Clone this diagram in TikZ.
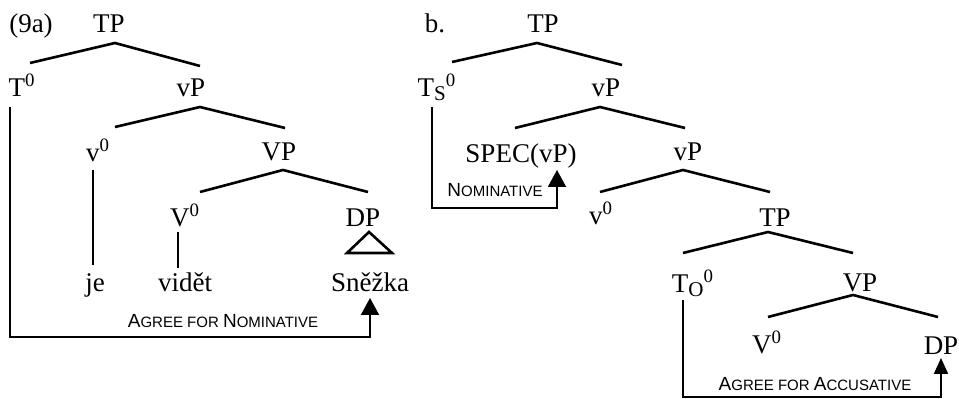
\documentclass[tikz,border=0pt]{standalone}
\usepackage{fontspec}
\setmainfont{Liberation Serif}
\setsansfont{Liberation Sans}
\usepackage{tikz}
\usetikzlibrary{calc}
\usetikzlibrary{arrows.meta}
\tikzstyle{cat} = [anchor=base, inner sep=0pt, font=\fontsize{13.5}{16}\selectfont]
\tikzstyle{caselabel} = [anchor=base, inner sep=0pt, font=\sffamily]
\tikzstyle{branch} = [line width=1.3pt]
\tikzstyle{stem} = [line width=.8pt]
\tikzstyle{agree} = [line width=1pt, -{Triangle[width=9pt,length=8.5pt]}]
\newcommand{\scbig}{\fontsize{9.5}{11}\selectfont}
\newcommand{\scsmall}{\fontsize{7.5}{9}\selectfont}

\begin{document}
\begin{tikzpicture}[x=0.5pt, y=-0.5pt]
            \useasboundingbox (0,0) rectangle (959,399);
            % (9a)
            \node (lbla) [cat] at (31,33) {(9a)};
            \node (tpA) [cat] at (109,33) {TP};
            \node (t0A) [cat] at (22,97) {T\textsuperscript{0}};
            \node (vpA) [cat] at (191,97) {vP};
            \node (v0A) [cat] at (98,162) {v\textsuperscript{0}};
            \node (VPA) [cat] at (279,161) {VP};
            \node (V0A) [cat] at (185,227) {V\textsuperscript{0}};
            \node (dpA) [cat] at (363,227) {DP};
            \node (jeA) [cat] at (95,292) {je};
            \node (videtA) [cat] at (185,292) {vidět};
            \node (snezkaA) [cat] at (370,292) {Sněžka};
            \node (nomA) [caselabel] at (223,328) {\scbig A\scsmall GREE FOR \scbig N\scsmall OMINATIVE};
            \coordinate (botA) at (0,337);

            \draw [branch] ($(t0A.base)+(8,-34)$) -- ($(tpA.base)+(6,10)$) -- ($(vpA.base)+(9,-31)$);
            \draw [branch] ($(v0A.base)+(17,-35)$) -- ($(vpA.base)+(9,10)$) -- ($(VPA.base)+(6,-33)$);
            \draw [branch] ($(V0A.base)+(15,-35)$) -- ($(VPA.base)+(4,9)$) -- ($(dpA.base)+(5,-35)$);
            \draw [stem] ($(v0A.base)+(-5,8)$) -- ($(jeA.base)+(-2,-27)$);
            \draw [stem] ($(V0A.base)+(-7,5)$) -- ($(videtA.base)+(-7,-24)$);
            \draw [branch] ($(dpA.base)+(6,5)$) -- ($(dpA.base)+(-16,26)$) -- ($(dpA.base)+(29,26)$) -- cycle;
            \draw [agree] ($(t0A.base)+(-12,10)$) |- (botA -| snezkaA.base) -- ($(snezkaA.base)+(0,6)$);

            % b.
            \node (lblb) [cat] at (435,33) {b.};
            \node (tpB) [cat] at (543,33) {TP};
            \node (ts0B) [cat] at (437,97) {T\raisebox{-2pt}{\fontsize{10.5}{12}\selectfont S}\textsuperscript{0}};
            \node (vpB) [cat] at (606,97) {vP};
            \node (specB) [cat] at (521,163) {SPEC(vP)};
            \node (vpC) [cat] at (688,161) {vP};
            \node (v0B) [cat] at (601,225) {v\textsuperscript{0}};
            \node (tpC) [cat] at (775,227) {TP};
            \node (to0B) [cat] at (693,293) {T\raisebox{-2pt}{\fontsize{10.5}{12}\selectfont O}\textsuperscript{0}};
            \node (VPB) [cat] at (860,292) {VP};
            \node (V0B) [cat] at (767,354) {V\textsuperscript{0}};
            \node (dpB) [cat] at (941,355) {DP};
            \node (nomB) [caselabel] at (495,197) {\scbig N\scsmall OMINATIVE};
            \node (accB) [caselabel] at (815,391) {\scbig A\scsmall GREE FOR \scbig A\scsmall CCUSATIVE};
            \coordinate (botB) at (0,208);
            \coordinate (botC) at (0,397);

            \draw [branch] ($(ts0B.base)+(15,-35)$) -- ($(tpB.base)+(-6,10)$) -- ($(vpB.base)+(16,-32)$);
            \draw [branch] ($(specB.base)+(-6,-35)$) -- ($(vpB.base)+(-6,10)$) -- ($(vpC.base)+(-3,-33)$);
            \draw [branch] ($(v0B.base)+(-1,-33)$) -- ($(vpC.base)+(-5,9)$) -- ($(tpC.base)+(-5,-35)$);
            \draw [branch] ($(to0B.base)+(-10,-40)$) -- ($(tpC.base)+(-7,5)$) -- ($(VPB.base)+(-7,-39)$);
            \draw [branch] ($(V0B.base)+(1,-37)$) -- ($(VPB.base)+(-7,3)$) -- ($(dpB.base)+(-3,-38)$);
            \draw [agree] ($(ts0B.base)+(-5,10)$) |- ($(botB -| specB.base)+(36,0)$) -- ($(specB.base)+(36,7)$);
            \draw [agree, -{Triangle[width=7pt,length=8pt]}] ($(to0B.base)+(-10,7)$) |- (botC -| dpB.base) -- ($(dpB.base)+(0,3)$);
\end{tikzpicture}
\end{document}
